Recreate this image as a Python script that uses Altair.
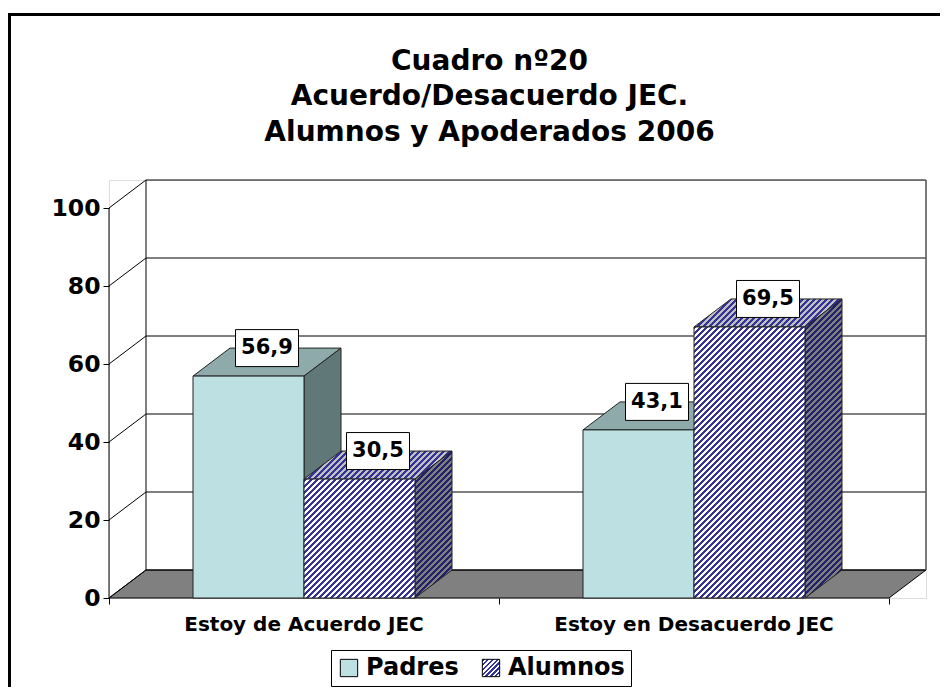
import json
import math
import altair as alt
import pandas as pd

# ---------------- data ----------------
categories = ["Estoy de Acuerdo JEC", "Estoy en Desacuerdo JEC"]
series = ["Padres", "Alumnos"]
padres = [56.9, 43.1]
alumnos = [30.5, 69.5]
y_ticks = [0, 20, 40, 60, 80, 100]
title_lines = ["Cuadro nº20", "Acuerdo/Desacuerdo JEC.", "Alumnos y Apoderados 2006"]

# ---------------- geometry / style ----------------
FONT = "DejaVu Sans"
PX_PER_CAT = 390.0
PX_PER_UNIT = 3.9
DEPTH_PX_X = 37.0
DEPTH_PX_Y = 28.0
BAR_PX = 111.0

NCAT = len(categories)
DX = DEPTH_PX_X / PX_PER_CAT
DY = DEPTH_PX_Y / PX_PER_UNIT
BW = BAR_PX / PX_PER_CAT
X_MAX = NCAT + DX
Y_MAX = 100 + DY
W = round(X_MAX * PX_PER_CAT)
H = round(Y_MAX * PX_PER_UNIT)

PAD_L, PAD_T = 101, 172
TOTAL_W, TOTAL_H = 932, 679

P_FRONT, P_TOP, P_SIDE = "#BDE0E3", "#8FAAAA", "#607878"
NAVY = "#333399"


def hatch(w, h, bg, fg, period=6.0, frac=0.5):
    total = w + h
    k = total / (w * w + h * h)
    stops = []
    n = int(math.ceil(total / period))
    for i in range(n):
        a = round(min(i * period / total, 1), 5)
        b = round(min((i + frac) * period / total, 1), 5)
        c = round(min((i + 1) * period / total, 1), 5)
        stops += [{"offset": a, "color": fg}, {"offset": b, "color": fg},
                  {"offset": b, "color": bg}, {"offset": c, "color": bg}]
    return {"gradient": "linear", "x1": 0, "y1": 0,
            "x2": round(k * w, 5), "y2": round(k * h, 5), "stops": stops}


xscale = alt.Scale(domain=[0, X_MAX], nice=False, zero=False)
yscale = alt.Scale(domain=[0, Y_MAX], nice=False, zero=False)

AX_Y = alt.Axis(values=y_ticks, title=None, domain=False, grid=False,
                tickSize=6, tickColor="black", labelFont=FONT,
                labelFontSize=23.5, labelFontWeight="bold",
                labelColor="black", labelPadding=3)
AX_X = alt.Axis(values=list(range(NCAT + 1)), labels=False, title=None,
                domain=False, grid=False, tickSize=6, tickColor="black")


def X(f, **kw):
    return alt.X(f, type="quantitative", scale=xscale, axis=AX_X, **kw)


def Y(f, **kw):
    return alt.Y(f, type="quantitative", scale=yscale, axis=AX_Y, **kw)


one = pd.DataFrame({"k": [0]})

# outer frame
frame_left = alt.Chart(one).mark_rule(color="black", strokeWidth=3).encode(
    x=alt.value(-99.5), y=alt.value(-166), y2=alt.value(TOTAL_H - PAD_T))
frame_top = alt.Chart(one).mark_rule(color="black", strokeWidth=3).encode(
    x=alt.value(-101), x2=alt.value(TOTAL_W - PAD_L), y=alt.value(-165.5))

# floor
floor_df = pd.DataFrame({"y": [0, DY], "xa": [0, DX], "xb": [NCAT, NCAT + DX]})
floor = alt.Chart(floor_df).mark_area(
    orient="horizontal", fill="#808080", stroke="black", strokeWidth=1
).encode(y=Y("y", stack=None), x=X("xa", stack=None), x2="xb")

# back wall gridlines and edges
wall_df = pd.DataFrame({"y": [v + DY for v in y_ticks], "xa": DX, "xb": NCAT + DX})
wall = alt.Chart(wall_df).mark_rule(color="black", strokeWidth=1).encode(
    x=X("xa"), x2="xb", y=Y("y"))
conn_df = pd.DataFrame({"xa": 0.0, "ya": y_ticks, "xb": DX, "yb": [v + DY for v in y_ticks]})
conn = alt.Chart(conn_df).mark_rule(color="black", strokeWidth=1).encode(
    x=X("xa"), x2="xb", y=Y("ya"), y2="yb")
edges_df = pd.DataFrame({"x": [0.0, DX], "ya": [0.0, DY], "yb": [100.0, 100 + DY]})
edges = alt.Chart(edges_df).mark_rule(color="black", strokeWidth=1).encode(
    x=X("x"), y=Y("ya"), y2="yb")
redge_df = pd.DataFrame({"x": [NCAT + DX], "ya": [DY], "yb": [100 + DY]})
redge = alt.Chart(redge_df).mark_rule(color="#555555", strokeWidth=1.5).encode(
    x=X("x"), y=Y("ya"), y2="yb")


def bar_frames(values, offset):
    fr, tp, sd = [], [], []
    for i, v in enumerate(values):
        x0 = i + 0.5 + offset
        x1 = x0 + BW
        fr.append({"bar": i, "x0": x0, "x1": x1, "y0": 0.0, "y1": v})
        tp += [{"bar": i, "y": v, "xa": x0, "xb": x1},
               {"bar": i, "y": v + DY, "xa": x0 + DX, "xb": x1 + DX}]
        sd += [{"bar": i, "x": x1, "ya": 0.0, "yb": v},
               {"bar": i, "x": x1 + DX, "ya": DY, "yb": v + DY}]
    return pd.DataFrame(fr), pd.DataFrame(tp), pd.DataFrame(sd)


def faces(df_f, df_t, df_s, fill_f, fill_t, fill_s):
    top = alt.Chart(df_t).mark_area(orient="horizontal", fill=fill_t, stroke="#222222",
                                    strokeWidth=1).encode(
        y=Y("y", stack=None), x=X("xa", stack=None), x2="xb", detail="bar:N")
    side = alt.Chart(df_s).mark_area(orient="vertical", fill=fill_s, stroke="#222222",
                                     strokeWidth=1).encode(
        x=X("x", stack=None), y=Y("ya", stack=None), y2="yb", detail="bar:N")
    front = alt.Chart(df_f).mark_rect(fill=fill_f, stroke="#222222", strokeWidth=1).encode(
        x=X("x0"), x2="x1", y=Y("y0"), y2="y1")
    return [top, side, front]


pf, pt, ps = bar_frames(padres, -BW)
layers_bars = faces(pf, pt, ps, P_FRONT, P_TOP, P_SIDE)

af, at, as_ = bar_frames(alumnos, 0.0)
for i, v in enumerate(alumnos):
    hp = v * PX_PER_UNIT
    layers_bars += faces(
        af[af.bar == i], at[at.bar == i], as_[as_.bar == i],
        hatch(BAR_PX, hp, "#FFFFFF", NAVY),
        hatch(BAR_PX + DEPTH_PX_X, DEPTH_PX_Y, "#C0C0C0", NAVY),
        hatch(DEPTH_PX_X, hp + DEPTH_PX_Y, "#808080", "#22226B"),
    )

# value labels
lab_rows = []
for i in range(NCAT):
    for s, vals, off in (("Padres", padres, -BW / 2), ("Alumnos", alumnos, BW / 2)):
        v = vals[i]
        lab_rows.append({"x": i + 0.5 + off + DX / 2, "y": v + DY,
                         "t": f"{v:.1f}".replace(".", ",")})
lab_df = pd.DataFrame(lab_rows)
lab_box = alt.Chart(lab_df).mark_point(
    shape="M-1,-0.587H1V0.587H-1Z", size=63 * 63, filled=True, fill="white",
    stroke="black", strokeWidth=1, opacity=1
).encode(x=X("x"), y=Y("y"))
lab_txt = alt.Chart(lab_df).mark_text(
    font=FONT, fontSize=21, fontWeight="bold", color="black", baseline="middle"
).encode(x=X("x"), y=Y("y"), text="t:N")

# category labels
cat_df = pd.DataFrame({"x": [i + 0.5 for i in range(NCAT)], "y": 0.0, "c": categories})
cat_txt = alt.Chart(cat_df).mark_text(
    font=FONT, fontSize=20, fontWeight="bold", color="black", baseline="middle", dy=27
).encode(x=X("x"), y=Y("y"), text="c:N")

# legend (symbols only)
leg_df = pd.DataFrame({"s": series})
leg = alt.Chart(leg_df).mark_square(opacity=0, filled=True, size=10).encode(
    x=alt.value(0), y=alt.value(0),
    color=alt.Color(
        "s:N",
        scale=alt.Scale(domain=series,
                        range=[P_FRONT, alt.ExprRef(expr=json.dumps(hatch(18, 18, "#FFFFFF", NAVY, period=5)))]),
        legend=alt.Legend(
            title=None, orient="none", legendX=222, legendY=470, direction="horizontal",
            symbolType="square", symbolSize=300, symbolOpacity=1,
            symbolStrokeColor="black", symbolStrokeWidth=1,
            labelFont=FONT, labelFontSize=24, labelFontWeight="bold", labelColor="black",
            labelOffset=5, columnPadding=20, padding=6, strokeColor="black",
            fillColor="white", labelLimit=300,
        ),
    ),
)

chart = alt.layer(
    floor, frame_left, frame_top, wall, conn, edges, redge,
    *layers_bars, lab_box, lab_txt, cat_txt, leg
).properties(
    width=W, height=H,
    autosize=alt.AutoSizeParams(type="none"),
    padding={"left": PAD_L, "top": PAD_T, "right": TOTAL_W - PAD_L - W,
             "bottom": TOTAL_H - PAD_T - H},
    title=alt.TitleParams(text=title_lines, anchor="middle", font=FONT, fontSize=28,
                          fontWeight="bold", color="black", lineHeight=35.5,
                          offset=-134, dx=-28, frame="group"),
).configure_view(stroke=None).configure(background="white")

chart.save("out.html", embed_options={"renderer": "svg", "actions": False})
